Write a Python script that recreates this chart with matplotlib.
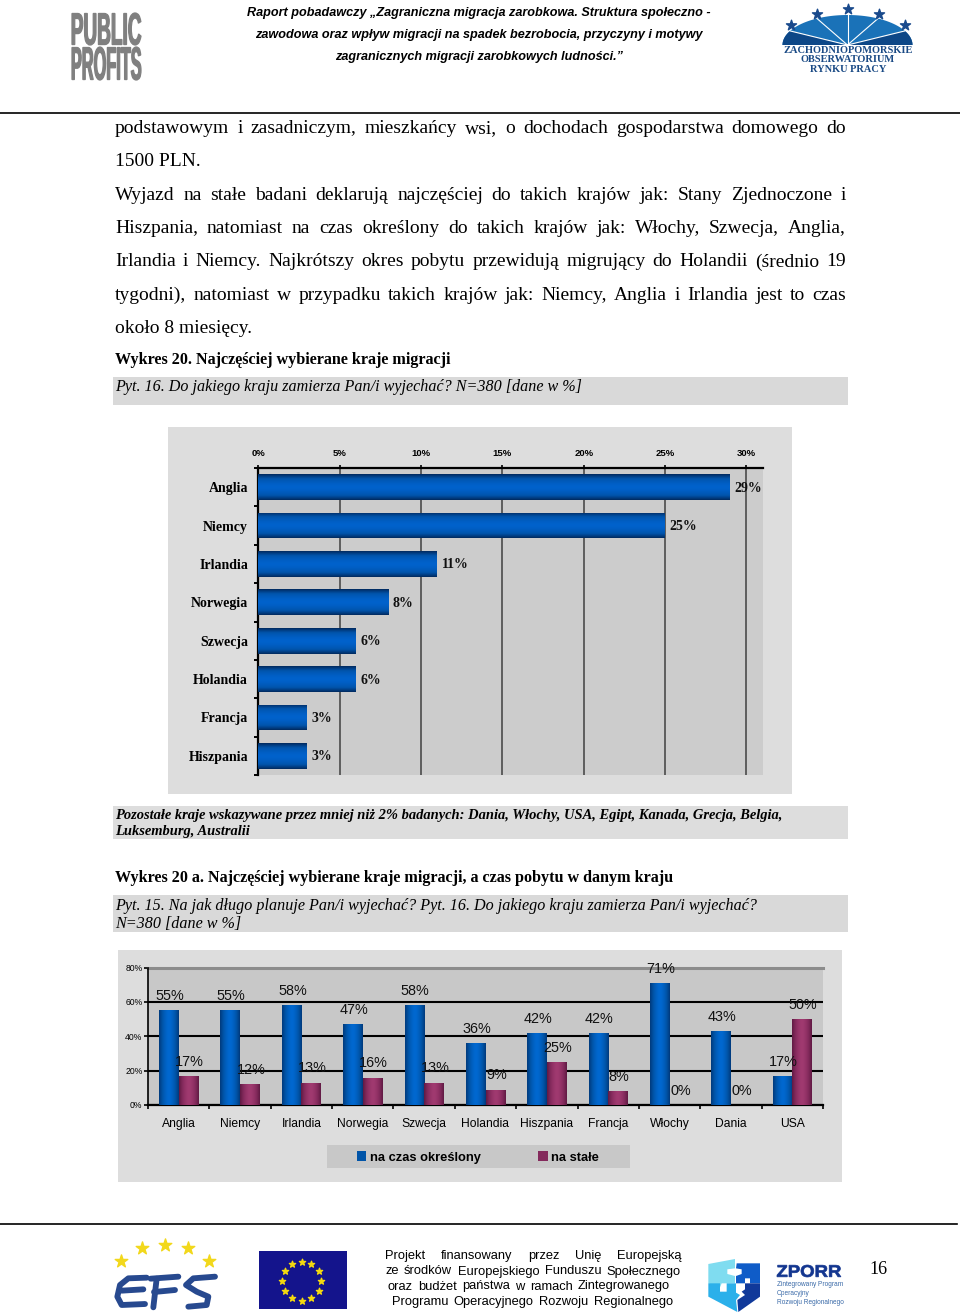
import numpy as np
import matplotlib
matplotlib.use('Agg')
import matplotlib.pyplot as plt
from matplotlib.colors import LinearSegmentedColormap
from matplotlib.patches import Rectangle, Polygon, PathPatch
from matplotlib.textpath import TextPath
from matplotlib.font_manager import FontProperties
from matplotlib.transforms import Affine2D

W, H = 960, 1314
SERIF = 'Liberation Serif'
SANS = 'Liberation Sans'

# dane wykresu 20
kraje = ['Anglia', 'Niemcy', 'Irlandia', 'Norwegia', 'Szwecja', 'Holandia', 'Francja', 'Hiszpania']
udzial = [29, 25, 11, 8, 6, 6, 3, 3]
ticks_proc = [0, 5, 10, 15, 20, 25, 30]

# dane wykresu 20 a
kraje_a = ['Anglia', 'Niemcy', 'Irlandia', 'Norwegia', 'Szwecja', 'Holandia',
           'Hiszpania', 'Francja', 'Włochy', 'Dania', 'USA']
czas_okreslony = [55, 55, 58, 47, 58, 36, 42, 42, 71, 43, 17]
na_stale = [17, 12, 13, 16, 13, 9, 25, 8, 0, 0, 50]
ticks_a = [0, 20, 40, 60, 80]

# tekst strony
naglowek = ['Raport pobadawczy „Zagraniczna migracja zarobkowa. Struktura społeczno -',
            'zawodowa oraz wpływ migracji na spadek bezrobocia, przyczyny i motywy',
            'zagranicznych migracji zarobkowych ludności.”']
akapit = [('podstawowym i zasadniczym, mieszkańcy wsi, o dochodach gospodarstwa domowego do', True),
          ('1500 PLN.', False),
          ('Wyjazd na stałe badani deklarują najczęściej do takich krajów jak: Stany Zjednoczone i', True),
          ('Hiszpania, natomiast na czas określony do takich krajów jak: Włochy, Szwecja, Anglia,', True),
          ('Irlandia i Niemcy. Najkrótszy okres pobytu przewidują migrujący do Holandii (średnio 19', True),
          ('tygodni), natomiast w przypadku takich krajów jak: Niemcy, Anglia i Irlandia jest to czas', True),
          ('około 8 miesięcy.', False)]
stopka = ['Projekt finansowany przez Unię Europejską',
          'ze środków Europejskiego Funduszu Społecznego',
          'oraz budżet państwa w ramach Zintegrowanego',
          'Programu Operacyjnego Rozwoju Regionalnego']

fig = plt.figure(figsize=(W / 100, H / 100), dpi=100, facecolor='white')
page = fig.add_axes([0, 0, 1, 1], zorder=0)
page.set_xlim(0, W)
page.set_ylim(H, 0)
page.axis('off')
renderer = fig.canvas.get_renderer()


def px_axes(x0, y0, x1, y1):
    return fig.add_axes([x0 / W, 1 - y1 / H, (x1 - x0) / W, (y1 - y0) / H], zorder=2)


def rect(x0, y0, x1, y1, color):
    page.add_patch(Rectangle((x0, y0), x1 - x0, y1 - y0, fc=color, ec='none', zorder=1))


def poly(points, color, z=3):
    page.add_patch(Polygon(points, fc=color, ec='none', zorder=z))


# rozciaga slowa na cala szerokosc wiersza, y to linia bazowa
def justify(line, x0, x1, y, **kw):
    words = line.split()
    arts = [page.text(x0, y, w, va='baseline', ha='left', zorder=5, **kw) for w in words]
    widths = [a.get_window_extent(renderer).width for a in arts]
    gap = (x1 - x0 - sum(widths)) / (len(words) - 1)
    x = x0
    for a, w in zip(arts, widths):
        a.set_x(x)
        x += w + gap


# tekst jako sciezka, wpasowany w prostokat (logotypy)
def fit_text(s, x0, y0, x1, y1, color, lw=0, **font):
    tp = TextPath((0, 0), s, size=10, prop=FontProperties(**font))
    bb = tp.get_extents()
    tr = (Affine2D().translate(-bb.x0, -bb.y0)
          .scale((x1 - x0) / bb.width, -(y1 - y0) / bb.height)
          .translate(x0, y1))
    page.add_patch(PathPatch(tp, fc=color, ec=color, lw=lw, transform=tr + page.transData, zorder=5))


# gradient na slupkach, przyciety do prostokata slupka
def gradient(ax, bars, cmap, horizontal):
    g = np.abs(np.linspace(-1, 1, 64)) ** 1.6
    g = g.reshape(1, -1) if horizontal else g.reshape(-1, 1)
    for b in bars:
        if b.get_width() == 0 or b.get_height() == 0:
            continue
        im = ax.imshow(g, cmap=cmap, vmin=0, vmax=1, aspect='auto', zorder=b.get_zorder() + 0.1,
                       extent=[b.get_x(), b.get_x() + b.get_width(),
                               b.get_y(), b.get_y() + b.get_height()])
        im.set_clip_path(b)


blue_v = LinearSegmentedColormap.from_list('bv', ['#0062cc', '#0054ac', '#002a60'])
blue_h = LinearSegmentedColormap.from_list('bh', ['#0068d0', '#0054a8', '#003a7c'])
maroon_h = LinearSegmentedColormap.from_list('mh', ['#a03a70', '#842a5c', '#601a44'])

# ---- naglowek ----
for s, y in zip(naglowek, [16, 38, 60]):
    page.text(479, y, s, family=SANS, style='italic', weight='bold', fontsize=9.13,
              ha='center', va='baseline', zorder=5)
page.plot([0, 960], [112.5, 112.5], color='black', lw=1.2, zorder=3)

fit_text('PUBLIC', 72, 13, 141, 45, '#808080', lw=0.9, family=SANS, weight='bold')
fit_text('PROFITS', 72, 47, 141, 80, '#808080', lw=0.9, family=SANS, weight='bold')

# logo obserwatorium
t = np.linspace(np.pi, 0, 80)
dome = np.c_[847.5 + 65 * np.cos(t), 45 - 30 * np.sin(t)]
poly(dome, '#1a72b8')
tl = np.radians(np.linspace(180, 152, 12))
tr_ = np.radians(np.linspace(0, 28, 12))
poly(np.r_[[[847.5, 45]], np.c_[847.5 + 65 * np.cos(tl), 45 - 30 * np.sin(tl)]], '#0d4787', 3.1)
poly(np.r_[[[847.5, 45]], np.c_[847.5 + 65 * np.cos(tr_), 45 - 30 * np.sin(tr_)]], '#0d4787', 3.1)
for a in np.radians([28, 62, 90, 118, 152]):
    page.plot([847.5, 847.5 + 65 * np.cos(a)], [45, 45 - 30 * np.sin(a)], color='white', lw=0.8, zorder=4)
page.scatter([790.7, 817, 847.5, 879, 905], [25, 13.5, 9.3, 13.5, 25], marker='*', s=58,
             color='#1a4a8c', zorder=4)
for s, y in zip(['ZACHODNIOPOMORSKIE', 'OBSERWATORIUM', 'RYNKU PRACY'], [50.5, 60, 69.5]):
    page.text(848, y, s, family=SERIF, weight='bold', fontsize=7.5, color='#1a4a85',
              ha='center', va='center', zorder=5)

# ---- tekst ----
for (s, just), y in zip(akapit, [133, 166.5, 200, 233, 266.5, 300, 333]):
    if just:
        justify(s, 115, 846, y, family=SERIF, fontsize=14)
    else:
        page.text(115, y, s, family=SERIF, fontsize=14, va='baseline', zorder=5)

page.text(115, 360, 'Wykres 20. Najczęściej wybierane kraje migracji', family=SERIF, weight='bold',
          fontsize=11.65, va='center', zorder=5)
rect(113, 377, 848, 405, '#d9d9d9')
page.text(115, 387, 'Pyt. 16. Do jakiego kraju zamierza Pan/i wyjechać? N=380 [dane w %]', family=SERIF,
          style='italic', fontsize=11.6, va='center', zorder=5)

# ---- wykres 20 ----
rect(168, 427, 792, 794, '#dddddd')
ax = px_axes(258.4, 468, 762.6, 775)
ax.set_facecolor('#cccccc')
y = np.arange(len(kraje))
bars = ax.barh(y, udzial, height=0.67, color='#0054ac', edgecolor='none', zorder=3)
gradient(ax, bars, blue_v, False)
ax.set_xlim(0, 31)
ax.set_ylim(len(kraje) - 0.5, -0.5)
ax.xaxis.tick_top()
ax.set_xticks(ticks_proc, [f'{v}%' for v in ticks_proc], family=SANS, weight='bold', fontsize=6.8)
ax.tick_params(axis='x', length=2, width=1.2, pad=5, color='black')
ax.set_yticks(np.arange(len(kraje) + 1) - 0.5, [''] * (len(kraje) + 1))
ax.tick_params(axis='y', which='major', length=3, width=1.4, direction='out')
ax.set_yticks(y, kraje, minor=True, family=SERIF, weight='bold', fontsize=10)
ax.tick_params(axis='y', which='minor', length=0, pad=7.5)
ax.grid(axis='x', color='#404040', lw=1.1, zorder=1)
ax.set_axisbelow(True)
for side in ['right', 'bottom']:
    ax.spines[side].set_visible(False)
for side in ['left', 'top']:
    ax.spines[side].set_linewidth(1.6)
for v, yy in zip(udzial, y):
    ax.annotate(f'{v}%', (v, yy), xytext=(3.2, -0.7), textcoords='offset points', family=SERIF,
                weight='bold', fontsize=10, va='center', ha='left', color='#111111', zorder=6)

rect(113, 806, 848, 839, '#dddddd')
page.text(115, 815.5, 'Pozostałe kraje wskazywane przez mniej niż 2% badanych: Dania, Włochy, USA, Egipt, Kanada, Grecja, Belgia,',
          family=SERIF, style='italic', weight='bold', fontsize=10.48, va='center', zorder=5)
page.text(115, 831.5, 'Luksemburg, Australii', family=SERIF, style='italic', weight='bold', fontsize=10.48,
          va='center', zorder=5)

page.text(115, 878, 'Wykres 20 a. Najczęściej wybierane kraje migracji, a czas pobytu w danym kraju',
          family=SERIF, weight='bold', fontsize=11.65, va='center', zorder=5)
rect(113, 895, 848, 932, '#d9d9d9')
page.text(115, 906, 'Pyt. 15. Na jak długo planuje Pan/i wyjechać? Pyt. 16. Do jakiego kraju zamierza Pan/i wyjechać?',
          family=SERIF, style='italic', fontsize=11.6, va='center', zorder=5)
page.text(115, 924, 'N=380 [dane w %]', family=SERIF, style='italic', fontsize=11.6, va='center', zorder=5)

# ---- wykres 20 a ----
rect(118, 950, 842, 1182, '#dddddd')
ax2 = px_axes(148, 967.5, 823, 1105)
ax2.set_facecolor('#c8c8c8')
x = np.arange(len(kraje_a))
w = 0.32
b1 = ax2.bar(x - w / 2, czas_okreslony, w, color='#0054a8', edgecolor='none', zorder=3, label='na czas określony')
b2 = ax2.bar(x + w / 2, na_stale, w, color='#842a5c', edgecolor='none', zorder=3, label='na stałe')
gradient(ax2, b1, blue_h, True)
gradient(ax2, b2, maroon_h, True)
ax2.set_xlim(-0.5, len(kraje_a) - 0.5)
ax2.set_ylim(0, 80)
ax2.set_yticks(ticks_a, [f'{v}%' for v in ticks_a], family=SANS, fontsize=6.2)
ax2.tick_params(axis='y', length=3, width=1.2, pad=1)
ax2.set_xticks(np.arange(len(kraje_a) + 1) - 0.5, [''] * (len(kraje_a) + 1))
ax2.tick_params(axis='x', which='major', length=3, width=1.2, direction='out')
ax2.set_xticks(x, kraje_a, minor=True, family=SANS, fontsize=8.7)
ax2.tick_params(axis='x', which='minor', length=0, pad=9.5)
ax2.grid(axis='y', color='black', lw=1.5, zorder=1)
ax2.set_axisbelow(True)
ax2.spines['top'].set_visible(False)
ax2.spines['right'].set_visible(False)
ax2.spines['left'].set_linewidth(1.2)
ax2.spines['bottom'].set_linewidth(1.6)
ax2.plot([-0.5, len(kraje_a) - 0.5], [80, 80], color='#8c8c8c', lw=2.2, clip_on=False, zorder=2)
for bs, vals in [(b1, czas_okreslony), (b2, na_stale)]:
    for b, v in zip(bs, vals):
        ax2.annotate(f'{v}%', (b.get_x() + b.get_width() / 2, v), xytext=(0.7, 10.2),
                     textcoords='offset points', family=SANS, fontsize=10.4, ha='center',
                     va='center', color='#111111', zorder=6, annotation_clip=False)

rect(326.5, 1145, 630, 1168, '#c8c8c8')
fig.legend(handles=[b1, b2], loc='center left', bbox_to_anchor=(345 / W, 1 - 1157.5 / H), ncol=2,
           frameon=False, handlelength=0.72, handleheight=0.8, handletextpad=0.3, columnspacing=4.5,
           prop=FontProperties(family=SANS, weight='bold', size=9.25))

# ---- stopka ----
page.plot([0, 957], [1224, 1224], color='black', lw=1.2, zorder=3)
page.scatter([120.7, 142, 165, 188, 208.7], [1261, 1248, 1244.7, 1248, 1260.7], marker='*', s=90,
             color='#f2d81c', zorder=4)


# odreczne litery EFS, wspolrzedne jak w logo
def stroke(pts):
    pts = np.array(pts, float)
    page.plot(100 + pts[:, 0] / 3, 1230 + pts[:, 1] / 3, color='#27498f', lw=4.2,
              solid_capstyle='round', solid_joinstyle='round', zorder=4)


stroke([(140, 143), (85, 145), (60, 165), (52, 200), (65, 225), (135, 222)])
stroke([(65, 182), (130, 178)])
stroke([(152, 146), (235, 140)])
stroke([(170, 146), (160, 232)])
stroke([(162, 186), (225, 180)])
stroke([(345, 140), (280, 145), (258, 165), (290, 185), (325, 200), (320, 225), (265, 230)])

rect(259, 1250.7, 346.7, 1309, '#14148c')
a = np.radians(np.arange(0, 360, 30))
page.scatter(301.7 + 19.5 * np.cos(a), 1281 + 19.5 * np.sin(a), marker='*', s=22, color='#f4d90f', zorder=4)


# puzzle ZPORR
def piece(pts, color):
    pts = np.array(pts, float)
    poly(np.c_[700 + pts[:, 0] / 3, 1250 + pts[:, 1] / 3], color)


piece([(25, 42), (105, 27), (105, 55), (82, 58), (82, 72), (105, 78), (105, 100), (65, 100), (60, 112), (25, 100)], '#7fdcf0')
piece([(25, 100), (60, 100), (60, 125), (80, 125), (80, 100), (108, 100), (108, 128), (120, 135), (108, 150), (112, 186), (25, 140)], '#2bb0ea')
piece([(110, 40), (180, 40), (180, 100), (150, 100), (150, 85), (135, 85), (135, 100), (108, 100), (108, 78), (125, 72), (125, 58), (108, 55)], '#0f5cc8')
piece([(135, 100), (180, 100), (180, 140), (115, 186), (112, 150), (135, 135), (125, 125), (135, 118)], '#10399a')

fit_text('ZPORR', 777, 1265, 841, 1277, '#12358f', lw=0.5, family=SANS, weight='bold')
for s, yy in zip(['Zintegrowany Program', 'Operacyjny', 'Rozwoju Regionalnego'], [1285, 1293.5, 1302]):
    page.text(777, yy, s, family=SANS, fontsize=4.7, color='#3a6aa8', va='center', zorder=5)

for s, x0, x1, yy in zip(stopka, [385, 385, 388, 392], [681, 681, 670, 673], [1259.5, 1274.5, 1289.5, 1304.5]):
    justify(s, x0, x1, yy, family=SANS, fontsize=9.3)
page.text(878.5, 1270, '16', family=SERIF, fontsize=13, ha='center', va='center', zorder=5)

fig.savefig('out.png', dpi=100)
